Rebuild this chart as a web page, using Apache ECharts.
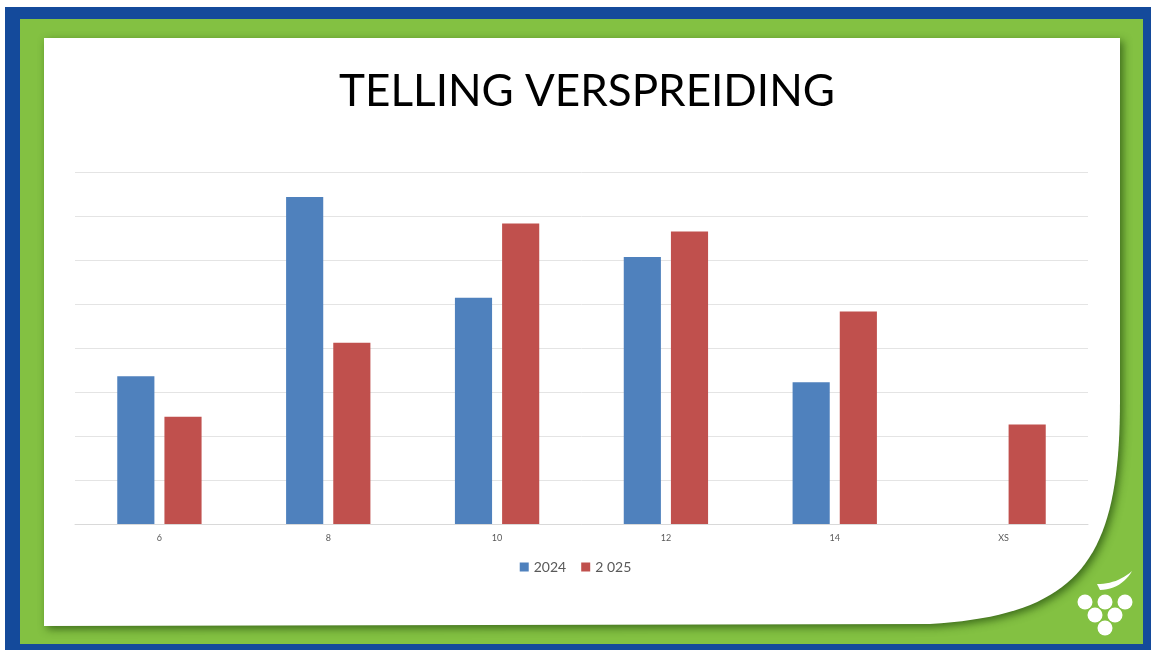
<!DOCTYPE html>
<html>
<head>
<meta charset="utf-8">
<style>
  html, body { margin: 0; padding: 0; background: #fff; }
  #chart { width: 1151px; height: 650px; }
</style>
<script src="https://cdn.jsdelivr.net/npm/echarts@6/dist/echarts.min.js"></script>
</head>
<body>
<div id="chart"></div>
<script>
  // maten en aantallen (in rasterstappen, as zonder labels)
  const sizes = ['6', '8', '10', '12', '14', 'XS'];
  const count2024 = [3.36, 7.43, 5.14, 6.07, 3.22, 0];
  const count2025 = [2.44, 4.12, 6.83, 6.65, 4.83, 2.26];

  const chart = echarts.init(document.getElementById('chart'));

  // punten langs een kubische bezier, voor de ronde hoek van de dia
  function bezier(p0, p1, p2, p3, n) {
    const pts = [];
    for (let i = 0; i <= n; i++) {
      const t = i / n, u = 1 - t;
      pts.push([
        u * u * u * p0[0] + 3 * u * u * t * p1[0] + 3 * u * t * t * p2[0] + t * t * t * p3[0],
        u * u * u * p0[1] + 3 * u * u * t * p1[1] + 3 * u * t * t * p2[1] + t * t * t * p3[1]
      ]);
    }
    return pts;
  }

  const slide = [[44, 38], [1120, 38]]
    .concat(bezier([1120, 400], [1120, 560], [1080, 615], [930, 624], 40))
    .concat([[44, 626]]);
  const leaf = [[1097, 584]]
    .concat(bezier([1097, 584], [1110, 584], [1122, 580], [1132, 571], 12))
    .concat(bezier([1132, 571], [1126, 582], [1114, 590], [1100, 590], 12));

  const frame = [
    { type: 'rect', z: -10, shape: { x: 5, y: 7, width: 1146, height: 643 }, style: { fill: '#144a9b' } },
    { type: 'rect', z: -9, shape: { x: 20, y: 19, width: 1123, height: 625 }, style: { fill: '#83c142' } },
    {
      type: 'polygon', z: -8,
      shape: { points: slide },
      style: { fill: '#fff', shadowBlur: 8, shadowOffsetX: 3, shadowOffsetY: 3, shadowColor: 'rgba(30,70,10,0.7)' }
    },
    { type: 'polygon', z: -7, shape: { points: leaf }, style: { fill: '#fff' } }
  ];
  const grapes = [[1085, 602], [1105, 602], [1125, 602], [1095, 615], [1115, 615], [1105, 628]];
  grapes.forEach(function (g) {
    frame.push({ type: 'circle', z: -7, shape: { cx: g[0], cy: g[1], r: 7.5 }, style: { fill: '#fff' } });
  });

  chart.setOption({
    animation: false,
    graphic: frame,
    title: {
      text: 'TELLING VERSPREIDING',
      left: 582,
      textAlign: 'center',
      top: 65,
      textStyle: { fontFamily: 'Lato', fontWeight: 'normal', fontSize: 44, color: '#000' }
    },
    legend: {
      data: ['2024', '2 025'],
      left: 'center',
      top: 555,
      itemWidth: 9,
      itemHeight: 9,
      itemGap: 15,
      icon: 'rect',
      textStyle: { fontFamily: 'Lato', fontSize: 14, color: '#595959' }
    },
    grid: { left: 75, right: 63, top: 172, bottom: 126 },
    xAxis: {
      type: 'category',
      data: sizes,
      axisTick: { show: false },
      axisLine: { lineStyle: { color: '#d9d9d9' } },
      axisLabel: { color: '#595959', fontSize: 9, margin: 10, fontFamily: 'Lato' }
    },
    yAxis: {
      type: 'value',
      min: 0,
      max: 8,
      interval: 1,
      axisLabel: { show: false },
      splitLine: { lineStyle: { color: '#e4e4e4' } }
    },
    series: [
      {
        name: '2024',
        type: 'bar',
        data: count2024,
        barWidth: '22%',
        barGap: '27%',
        itemStyle: { color: '#4f81bd' }
      },
      {
        name: '2 025',
        type: 'bar',
        data: count2025,
        barWidth: '22%',
        itemStyle: { color: '#c0504d' }
      }
    ]
  });
</script>
</body>
</html>
